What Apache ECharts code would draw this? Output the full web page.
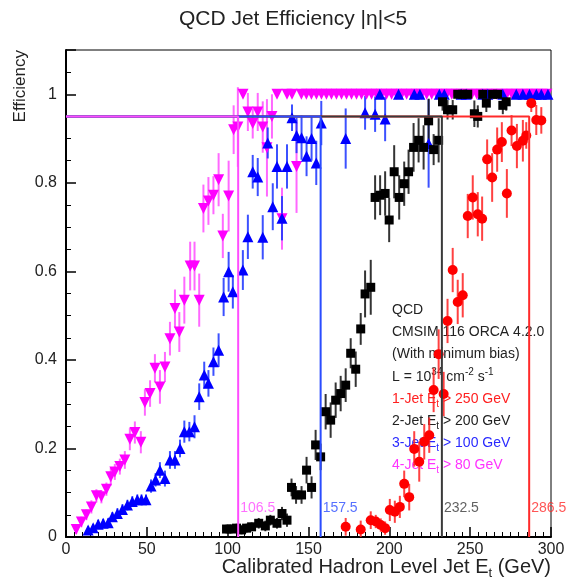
<!DOCTYPE html>
<html>
<head>
<meta charset="utf-8">
<script src="https://cdn.jsdelivr.net/npm/echarts@6/dist/echarts.min.js"></script>
<style>
  html, body { margin: 0; padding: 0; background: #fff; }
  #chart { width: 577px; height: 582px; }
</style>
</head>
<body>
<div id="chart"></div>
<script>
// data
// 4-jet (Et > 80 GeV)
var jet4X = [6.3, 9.5, 12.6, 15.7, 18.8, 21.9, 25, 27.7, 30.2, 33.3, 36.4, 39.5, 42.6, 46.3, 48.8, 52, 55, 58.1, 61.2, 64.3,
  67.4, 70.1, 73.2, 76.8, 79.5, 82.4, 85, 88.1, 91.2, 94.4, 97, 100.6, 103.7, 106.3, 109.5, 112.5, 115.5, 118.6, 121.7, 124.3,
  127.4, 130.5, 133.6, 136.7, 139.8, 142.6, 145.6, 148.7, 151.8, 154.9, 158, 161.1, 164.2, 167.3, 170.4, 173.5, 176.6, 179.7,
  182.8, 185.9, 189, 192.1, 195.2, 198.3, 201.4, 204.5, 207.6, 210.7, 213.8, 216.9, 220, 223.1, 226.2, 229.3, 232.4, 235.5,
  238.6, 241.7, 244.8, 247.9, 251, 254.1, 257.2, 260.3, 263.4, 266.5, 269.6, 272.7, 275.8, 278.9, 282, 285.1, 288.2, 291.3,
  294.4, 297.5]
var jet4Y = [0.017, 0.034, 0.05, 0.068, 0.093, 0.091, 0.108, 0.136, 0.147, 0.159, 0.174, 0.221, 0.236, 0.214, 0.304, 0.324, 0.381, 0.339, 0.384, 0.448,
  0.516, 0.463, 0.535, 0.612, 0.612, 0.535, 0.742, 0.759, 0.772, 0.807, 0.68, 0.77, 0.92, 0.926, 1, 0.96, 0.934, 0.96, 0.926, 0.879,
  0.95, 1, 0.719, 1, 1, 0.837, 1, 1, 1, 1, 1, 1, 1, 1, 1, 1, 1, 1,
  1, 1, 1, 1, 1, 1, 1, 1, 1, 1, 1, 1, 1, 1, 1, 1, 1, 1,
  1, 1, 1, 1, 1, 1, 1, 1, 1, 1, 1, 1, 1, 1, 1, 1, 1, 1,
  1, 1]
var jet4Err = [0.01, 0.012, 0.012, 0.015, 0.015, 0.015, 0.015, 0.02, 0.018, 0.018, 0.02, 0.025, 0.025, 0.025, 0.03, 0.03, 0.032, 0.038, 0.034, 0.038,
  0.043, 0.045, 0.053, 0.055, 0.055, 0.06, 0.054, 0.054, 0.043, 0.06, 0.05, 0.08, 0.055, 0.09, 0, 0.043, 0.034, 0.043, 0.058, 0.11,
  0.05, 0, 0.07, 0, 0, 0.105, 0, 0, 0, 0, 0, 0, 0, 0, 0, 0, 0, 0,
  0, 0, 0, 0, 0, 0, 0, 0, 0, 0, 0, 0, 0, 0, 0, 0, 0, 0,
  0, 0, 0, 0, 0, 0, 0, 0, 0, 0, 0, 0, 0, 0, 0, 0, 0, 0,
  0, 0]

// 3-jet (Et > 100 GeV)
var jet3X = [13.7, 16.8, 19.9, 23, 26.1, 28.7, 31.8, 34.9, 38, 41, 44.1, 46.7, 49.5, 52.6, 55.4, 58.1, 61.2, 64.3, 67.4, 70.5,
  73.2, 76.3, 79.5, 82.4, 85.5, 88.1, 91.2, 94.4, 97.5, 100.6, 103.2, 109.4, 112.5, 115.5, 118.6, 121.7, 124.8, 127.9, 130.5, 133.6,
  136.7, 139.8, 142.6, 145.7, 148.8, 151.9, 154.8, 157.9, 173, 185, 191.2, 194.1, 197.4, 205.7, 215.4, 218.9, 224.3, 230.9, 234, 244.4,
  247.5, 257.8, 260.9, 270.2, 278.5, 282.6, 286.7, 290.9, 294, 298.1]
var jet3Y = [0.016, 0.021, 0.029, 0.031, 0.032, 0.046, 0.053, 0.062, 0.072, 0.08, 0.084, 0.084, 0.084, 0.115, 0.129, 0.151, 0.132, 0.174, 0.174, 0.2,
  0.238, 0.238, 0.249, 0.317, 0.366, 0.347, 0.396, 0.422, 0.542, 0.599, 0.554, 0.603, 0.678, 0.825, 0.813, 0.677, 0.89, 0.746, 0.837, 0.72,
  0.837, 0.947, 0.907, 0.902, 0.86, 0.9, 0.845, 0.935, 0.9, 0.958, 0.955, 1, 0.944, 1, 1, 1, 0.889, 1, 1, 1,
  1, 1, 1, 1, 1, 1, 1, 1, 1, 1]
var jet3Err = [0.008, 0.008, 0.01, 0.01, 0.01, 0.01, 0.012, 0.012, 0.012, 0.012, 0.012, 0.012, 0.012, 0.015, 0.015, 0.018, 0.018, 0.02, 0.02, 0.02,
  0.025, 0.022, 0.026, 0.03, 0.03, 0.03, 0.032, 0.038, 0.043, 0.045, 0.038, 0.045, 0.05, 0.038, 0.043, 0.05, 0.035, 0.053, 0.05, 0.05,
  0.05, 0.03, 0.04, 0.05, 0.045, 0.05, 0.05, 0.05, 0.068, 0.038, 0.04, 0, 0.05, 0, 0, 0, 0.1, 0, 0, 0,
  0, 0, 0, 0, 0, 0, 0, 0, 0, 0]

// 2-jet (Et > 200 GeV)
var jet2X = [99.3, 102.4, 105.5, 108.6, 111.7, 114.8, 119.2, 123.3, 126.4, 130.5, 133.6, 136.7, 139.5, 142.3, 145.7, 148.8, 151.9, 154.4, 157.5, 160.6,
  163.7, 166.8, 169.9, 173, 176.1, 179.2, 182.3, 185, 188.5, 191.2, 194.3, 197.4, 199.9, 203, 206.1, 209.2, 211.9, 215, 218.1, 221.2,
  224.3, 227.4, 230.5, 232.9, 236, 239.2, 242.3, 245.4, 248.5, 252.6, 254.7, 257.8, 260, 263.9, 266.9, 270.2, 272.3]
var jet2Y = [0.018, 0.018, 0.02, 0.016, 0.02, 0.023, 0.031, 0.025, 0.038, 0.031, 0.053, 0.038, 0.112, 0.095, 0.095, 0.151, 0.112, 0.208, 0.181, 0.283,
  0.264, 0.309, 0.324, 0.343, 0.415, 0.379, 0.47, 0.549, 0.564, 0.767, 0.772, 0.776, 0.716, 0.825, 0.767, 0.798, 0.825, 0.88, 0.896, 0.88,
  0.94, 0.875, 0.896, 0.983, 0.965, 0.965, 1, 1, 1, 0.956, 0.95, 1, 0.98, 1, 1, 0.975, 0.983]
var jet2Err = [0.01, 0.01, 0.01, 0.01, 0.01, 0.01, 0.012, 0.012, 0.012, 0.012, 0.015, 0.015, 0.02, 0.02, 0.02, 0.03, 0.025, 0.034, 0.03, 0.04,
  0.04, 0.04, 0.04, 0.038, 0.034, 0.04, 0.036, 0.053, 0.062, 0.05, 0.045, 0.05, 0.05, 0.06, 0.05, 0.05, 0.05, 0.055, 0.05, 0.05,
  0.05, 0.035, 0.05, 0.02, 0.022, 0.022, 0, 0, 0, 0.03, 0.025, 0, 0.02, 0, 0, 0.02, 0.02]

// 1-jet (Et > 250 GeV)
var jet1X = [173, 182.3, 188.5, 191.6, 194.7, 197.4, 200.3, 203.4, 206.5, 209.2, 212.3, 215.4, 218.5, 221.6, 224.7, 227.4, 230.5, 233.6, 236, 239.2,
  242.3, 245.4, 248.5, 251.6, 254.7, 257.4, 260.5, 263.6, 266.7, 269.6, 272.7, 275.6, 278.9, 282.6, 284.7, 287.8, 290.9, 294]
var jet1Y = [0.023, 0.017, 0.038, 0.035, 0.027, 0.02, 0.061, 0.057, 0.068, 0.12, 0.09, 0.199, 0.17, 0.215, 0.23, 0.332, 0.413, 0.323, 0.488, 0.603,
  0.531, 0.546, 0.725, 0.767, 0.729, 0.719, 0.853, 0.812, 0.875, 0.892, 0.776, 0.918, 0.883, 0.895, 0.907, 0.98, 0.942, 0.941]
var jet1Err = [0.02, 0.02, 0.02, 0.015, 0.015, 0.015, 0.025, 0.025, 0.025, 0.03, 0.03, 0.04, 0.045, 0.04, 0.04, 0.05, 0.056, 0.05, 0.05, 0.05,
  0.05, 0.05, 0.05, 0.05, 0.05, 0.05, 0.045, 0.055, 0.05, 0.045, 0.055, 0.035, 0.05, 0.047, 0.03, 0.02, 0.034, 0.03]

// 95% efficiency cut values
var effLevel = 0.95
var cutValues = [286.5, 232.5, 157.5, 106.5]   // 1-, 2-, 3-, 4-jet

var FONT = 'Liberation Sans, Arial, sans-serif'
var COL = { jet1: '#ff0000', jet2: '#000000', jet3: '#0000ff', jet4: '#ff00ff' }
var LINE_COL = ['#ff2a2a', '#3a3a3a', '#2a4cff', '#ff4cff']

var chart = echarts.init(document.getElementById('chart'))

// 误差棒
function errorBars (xs, ys, es, color) {
  return {
    type: 'custom',
    silent: true,
    clip: true,
    data: xs.map((x, i) => [x, ys[i], es[i]]),
    encode: { x: 0, y: 1 },
    renderItem: function (params, api) {
      var lo = api.coord([api.value(0), api.value(1) - api.value(2)])
      var hi = api.coord([api.value(0), api.value(1) + api.value(2)])
      return {
        type: 'line',
        shape: { x1: lo[0], y1: lo[1], x2: hi[0], y2: hi[1] },
        style: { stroke: color, lineWidth: 2, opacity: 0.85 }
      }
    }
  }
}

function points (xs, ys, symbol, size, color, rotate) {
  return {
    type: 'scatter',
    silent: true,
    data: xs.map((x, i) => [x, ys[i]]),
    symbol: symbol,
    symbolSize: size,
    symbolRotate: rotate || 0,
    itemStyle: { color: color, opacity: 1 }
  }
}

// 阈值线: 0.95 水平 + 竖线
function cutLine (cut, color) {
  return {
    type: 'line',
    silent: true,
    symbol: 'none',
    data: [[0, effLevel], [cut, effLevel], [cut, 0]],
    lineStyle: { color: color, width: 2 }
  }
}

function cutLabel (cut, color) {
  return {
    type: 'scatter',
    silent: true,
    symbolSize: 0,
    data: [[cut, 0.066]],
    label: {
      show: true,
      position: 'right',
      distance: 2,
      formatter: p => String(p.value[0]),
      color: color,
      fontSize: 14,
      fontFamily: FONT
    }
  }
}

var series = [
  errorBars(jet4X, jet4Y, jet4Err, '#ff4dff'),
  points(jet4X, jet4Y, 'triangle', 11, COL.jet4, 180),
  errorBars(jet3X, jet3Y, jet3Err, '#1a33ff'),
  points(jet3X, jet3Y, 'triangle', 11, COL.jet3),
  errorBars(jet2X, jet2Y, jet2Err, '#111'),
  points(jet2X, jet2Y, 'rect', 9, COL.jet2),
  errorBars(jet1X, jet1Y, jet1Err, '#ff2020'),
  points(jet1X, jet1Y, 'circle', 10, COL.jet1)
]
cutValues.forEach((c, i) => {
  series.push(cutLine(c, LINE_COL[i]))
  series.push(cutLabel(c, LINE_COL[i]))
})

var txt = { fontSize: 14, fontFamily: FONT }
function legendLine (y, text, color) {
  return {
    type: 'text',
    x: 392,
    y: y,
    style: {
      text: text,
      fill: color,
      font: '14px ' + FONT,
      verticalAlign: 'middle',
      rich: {
        n: Object.assign({ fill: color }, txt),
        sub: { fontSize: 10, fontFamily: FONT, fill: color, padding: [10, 0, 0, 0] },
        sup: { fontSize: 10, fontFamily: FONT, fill: color, padding: [0, 0, 10, 0] }
      }
    }
  }
}

chart.setOption({
  animation: false,
  backgroundColor: '#fff',
  grid: {
    left: 66,
    right: 26,
    top: 50,
    bottom: 45,
    show: true,
    borderColor: '#000',
    borderWidth: 1
  },
  xAxis: {
    type: 'value',
    min: 0,
    max: 300,
    interval: 50,
    axisLine: { onZero: false, lineStyle: { color: '#000', width: 2 } },
    axisTick: { inside: true, length: 10, lineStyle: { color: '#000', width: 1.5 } },
    minorTick: { show: true, splitNumber: 10, length: 5, lineStyle: { color: '#000', width: 1 } },
    splitLine: { show: false },
    axisLabel: { color: '#222', fontSize: 16, fontFamily: FONT, margin: 5 }
  },
  yAxis: {
    type: 'value',
    min: 0,
    max: 1.1,
    interval: 0.2,
    axisLine: { show: true, lineStyle: { color: '#000', width: 2 } },
    axisTick: { show: true, inside: true, length: 10, lineStyle: { color: '#000', width: 1.5 } },
    minorTick: { show: true, splitNumber: 4, length: 5, lineStyle: { color: '#000', width: 1 } },
    splitLine: { show: false },
    axisLabel: {
      color: '#222',
      fontSize: 16,
      fontFamily: FONT,
      margin: 9,
      formatter: v => (v > 1.0001 ? '' : String(+v.toFixed(1)))
    }
  },
  series: series,
  graphic: [
    {
      type: 'text',
      x: 293,
      y: 19,
      style: { text: 'QCD Jet Efficiency |η|<5', font: '21px ' + FONT, fill: '#222', align: 'center', verticalAlign: 'middle' }
    },
    {
      type: 'text',
      x: 20,
      y: 50,
      rotation: Math.PI / 2,
      style: { text: 'Efficiency', font: '17px ' + FONT, fill: '#222', align: 'right', verticalAlign: 'middle' }
    },
    {
      type: 'text',
      x: 551,
      y: 567,
      style: {
        text: '{n|Calibrated Hadron Level Jet E}{sub|t}{n| (GeV)}',
        align: 'right',
        verticalAlign: 'middle',
        rich: {
          n: { fontSize: 20, fontFamily: FONT, fill: '#222' },
          sub: { fontSize: 13, fontFamily: FONT, fill: '#222', padding: [12, 0, 0, 0] }
        }
      }
    },
    legendLine(310, '{n|QCD}', '#222'),
    legendLine(332, '{n|CMSIM 116 ORCA 4.2.0}', '#222'),
    legendLine(354, '{n|(With minimum bias)}', '#222'),
    legendLine(377, '{n|L = 10}{sup|34}{n| cm}{sup|-2}{n| s}{sup|-1}', '#222'),
    legendLine(399, '{n|1-Jet E}{sub|t}{n| > 250 GeV}', '#ff2020'),
    legendLine(421, '{n|2-Jet E}{sub|t}{n| > 200 GeV}', '#222'),
    legendLine(443, '{n|3-Jet E}{sub|t}{n| > 100 GeV}', '#2a2aff'),
    legendLine(465, '{n|4-Jet E}{sub|t}{n| > 80 GeV}', '#ff33ff')
  ]
})
</script>
</body>
</html>
